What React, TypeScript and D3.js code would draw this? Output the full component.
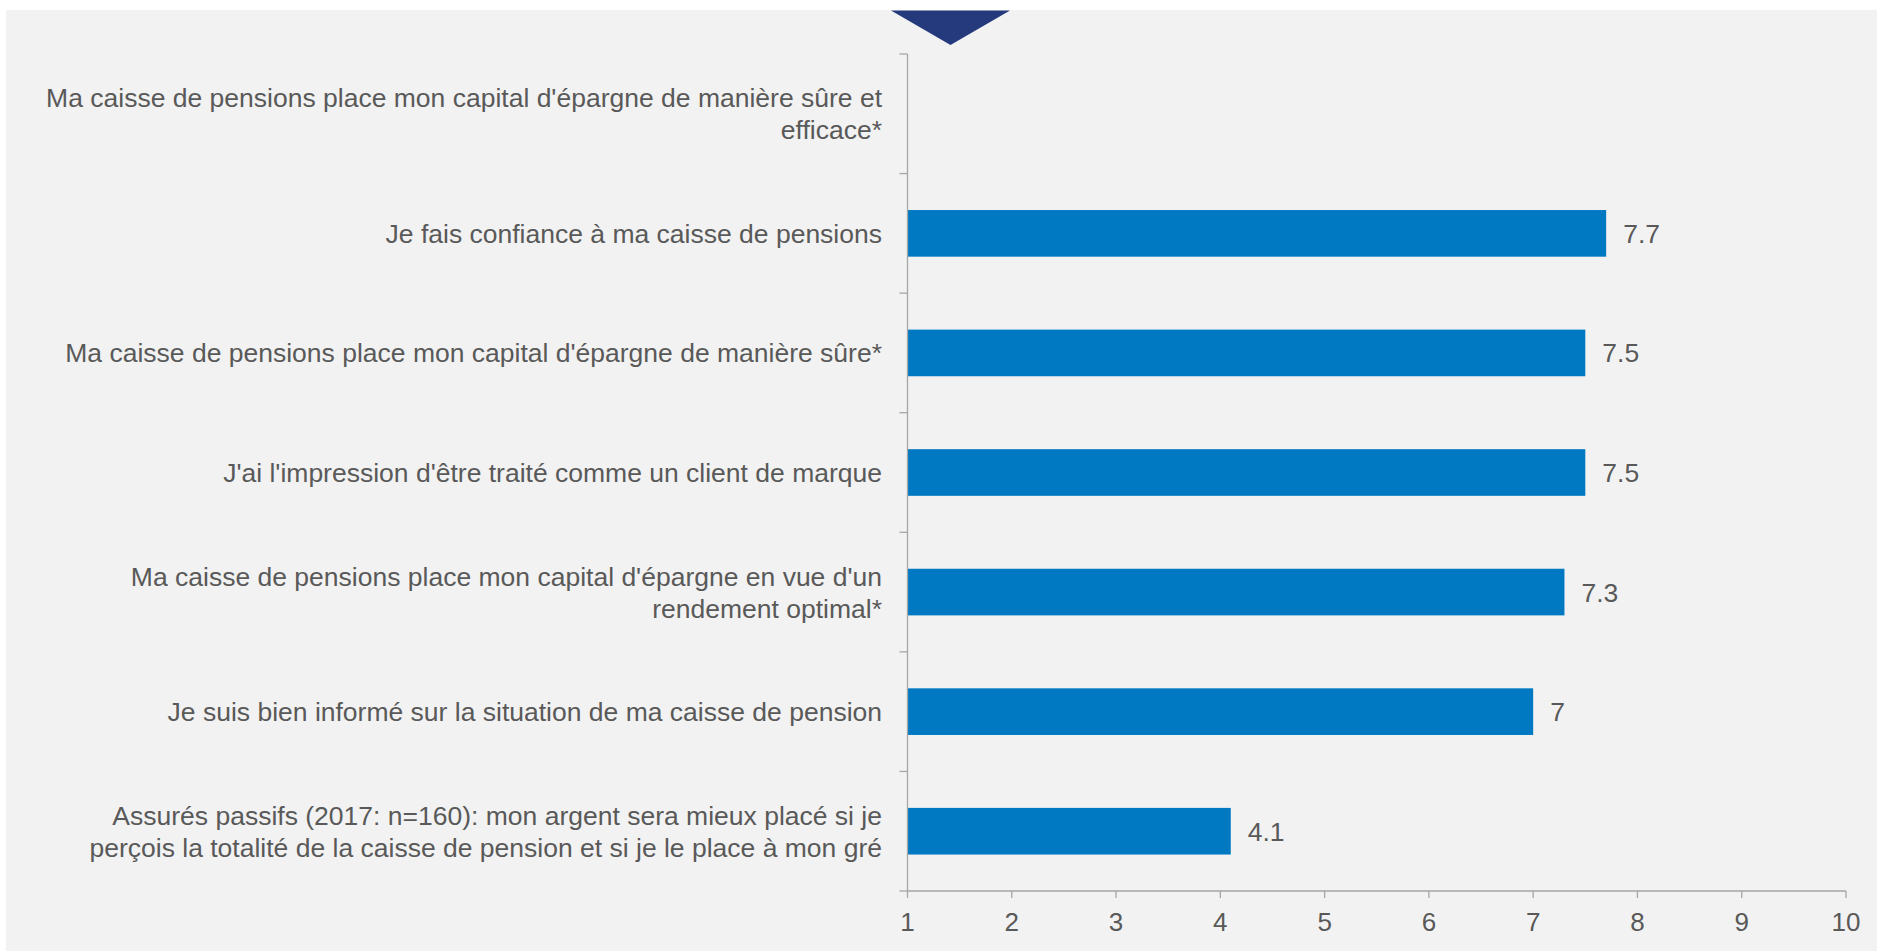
import React, { useEffect } from "react";
import * as d3 from "d3";

const categories: string[][] = [
  ["Ma caisse de pensions place mon capital d'épargne de manière sûre et", "efficace*"],
  ["Je fais confiance à ma caisse de pensions"],
  ["Ma caisse de pensions place mon capital d'épargne de manière sûre*"],
  ["J'ai l'impression d'être traité comme un client de marque"],
  ["Ma caisse de pensions place mon capital d'épargne en vue d'un", "rendement optimal*"],
  ["Je suis bien informé sur la situation de ma caisse de pension"],
  ["Assurés passifs (2017: n=160): mon argent sera mieux placé si je", "perçois la totalité de la caisse de pension et si je le place à mon gré"],
];
const values: (number | null)[] = [null, 7.7, 7.5, 7.5, 7.3, 7, 4.1];
const xTicks: number[] = [1, 2, 3, 4, 5, 6, 7, 8, 9, 10];

const W = 1877;
const H = 951;
const AX_X = 907.5;
const AX_RIGHT = 1846;
const AX_TOP = 54;
const AX_BOTTOM = 891;
const FONT = "'Liberation Sans', Arial, sans-serif";
const TEXT = "#595959";
const AXIS = "#A6A6A6";
const BAR = "#0079C2";
const BG = "#F2F2F2";

export default function App() {
  useEffect(() => {
    document.body.style.margin = "0";
    document.body.style.background = BG;
    document.documentElement.style.background = BG;
  }, []);

  const x = d3.scaleLinear().domain([1, 10]).range([AX_X, AX_RIGHT]);
  const idx = categories.map((_, i) => String(i));
  const y = d3.scaleBand<string>().domain(idx).range([AX_TOP, AX_BOTTOM]).paddingInner(0.61).paddingOuter(0.305);
  const step = y.step();
  const boundaries = d3.range(categories.length + 1).map((i) => AX_TOP + i * step);
  const lineH = 32;

  return (
    <svg width={W} height={H} style={{ position: "absolute", left: 0, top: 0, display: "block" }} fontFamily={FONT}>
      <rect x={0} y={0} width={W} height={H} fill="#ffffff" />
      <rect x={6} y={10} width={W - 6} height={H - 10} fill={BG} />
      <path d={`M891,10.5 L1010,10.5 L950.5,45 Z`} fill="#253A7D" />

      {/* bars */}
      {values.map((v, i) =>
        v == null ? null : (
          <g key={i}>
            <rect
              x={x(1)}
              y={y(String(i))!}
              width={x(v) - x(1)}
              height={y.bandwidth()}
              fill={BAR}
            />
            <text
              x={x(v) + 17}
              y={y(String(i))! + y.bandwidth() / 2}
              dy="0.36em"
              fontSize={26.5}
              fill={TEXT}
            >
              {String(v)}
            </text>
          </g>
        )
      )}

      {/* y axis */}
      <line x1={AX_X} x2={AX_X} y1={AX_TOP} y2={AX_BOTTOM} stroke={AXIS} strokeWidth={1.3} />
      {boundaries.map((b, i) => (
        <line key={i} x1={AX_X - 8} x2={AX_X} y1={b} y2={b} stroke={AXIS} strokeWidth={1.3} />
      ))}

      {/* x axis */}
      <line x1={AX_X} x2={AX_RIGHT} y1={AX_BOTTOM} y2={AX_BOTTOM} stroke={AXIS} strokeWidth={1.3} />
      {xTicks.map((t) => (
        <g key={t}>
          <line x1={x(t)} x2={x(t)} y1={AX_BOTTOM} y2={AX_BOTTOM + 7} stroke={AXIS} strokeWidth={1.3} />
          <text x={x(t)} y={931} textAnchor="middle" fontSize={26} fill={TEXT}>
            {t}
          </text>
        </g>
      ))}

      {/* category labels */}
      {categories.map((lines, i) => {
        const cy = y(String(i))! + y.bandwidth() / 2;
        const startY = cy - ((lines.length - 1) * lineH) / 2;
        return (
          <text key={i} textAnchor="end" fontSize={26.5} fill={TEXT}>
            {lines.map((l, j) => (
              <tspan key={j} x={882} y={startY + j * lineH} dy="0.36em">
                {l}
              </tspan>
            ))}
          </text>
        );
      })}
    </svg>
  );
}
